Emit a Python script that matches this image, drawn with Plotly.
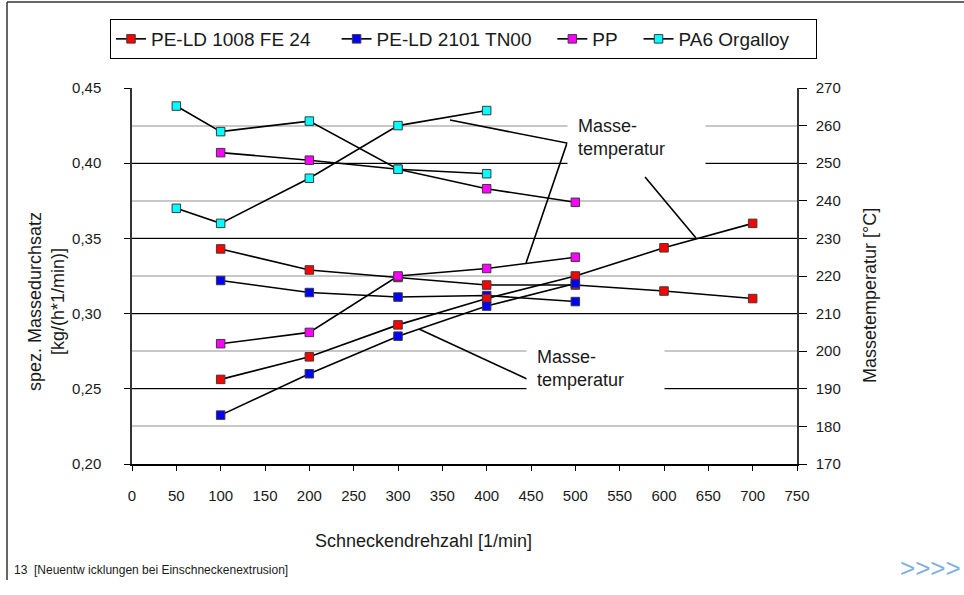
import plotly.graph_objects as go

# ---------------- data ----------------
materials = ["PE-LD 1008 FE 24", "PE-LD 2101 TN00", "PP", "PA6 Orgalloy"]
legend_pad = [4, 3, 3, 4]  # trailing spaces to mimic the wide legend spacing
colors = ["#FF0000", "#0000FF", "#FF00FF", "#00FFFF"]

speeds_ld1008 = [100, 200, 300, 400, 500, 600, 700]
ld1008_throughput = [0.343, 0.329, 0.324, 0.319, 0.319, 0.315, 0.310]
ld1008_temp = [192.5, 198.5, 207, 214, 220, 227.5, 234]

speeds_ld2101 = [100, 200, 300, 400, 500]
ld2101_throughput = [0.322, 0.314, 0.311, 0.312, 0.308]
ld2101_temp = [183, 194, 204, 212, 218]

speeds_pp = [100, 200, 300, 400, 500]
pp_throughput = [0.407, 0.402, 0.396, 0.383, 0.374]
pp_temp = [202, 205, 220, 222, 225]

speeds_pa6 = [50, 100, 200, 300, 400]
pa6_throughput = [0.438, 0.421, 0.428, 0.396, 0.393]
pa6_temp = [238, 234, 246, 260, 264]

x_ticks = [0, 50, 100, 150, 200, 250, 300, 350, 400, 450, 500, 550, 600, 650, 700, 750]
left_ticks = [0.20, 0.25, 0.30, 0.35, 0.40, 0.45]
right_ticks = [170, 180, 190, 200, 210, 220, 230, 240, 250, 260, 270]

# leader lines of the "Masse-temperatur" callouts (in data units of x / left y)
leader_upper = [(358.6, 0.4287), (490.6, 0.4134), (444.4, 0.3336)]
leader_upper2 = [(578.6, 0.3908), (636.1, 0.3503)]
leader_lower = [(445.5, 0.2565), (323.7, 0.2897)]
label_upper_pos = (490.6, 0.4168)
label_lower_pos = (444.4, 0.2638)

speeds = [speeds_ld1008, speeds_ld2101, speeds_pp, speeds_pa6]
throughputs = [ld1008_throughput, ld2101_throughput, pp_throughput, pa6_throughput]
temps = [ld1008_temp, ld2101_temp, pp_temp, pa6_temp]

FONT = "Liberation Sans, Arial, sans-serif"
TXT = "#1a1a1a"

fig = go.Figure()
for name, pad, col, xs, thr, tmp in zip(materials, legend_pad, colors, speeds, throughputs, temps):
    mk = dict(symbol="square", size=8.5, color=col, line=dict(color="#3a3a3a", width=1))
    ln = dict(color="black", width=1.6)
    fig.add_trace(go.Scatter(x=xs, y=thr, mode="lines+markers", name=name + "\u00a0" * pad,
                             legendgroup=name, marker=mk, line=ln, yaxis="y"))
    fig.add_trace(go.Scatter(x=xs, y=tmp, mode="lines+markers", name=name,
                             legendgroup=name, showlegend=False, marker=mk, line=ln,
                             yaxis="y2"))

W, H = 964, 595
L, R, T, B = 132, 167, 88, 131
pw, ph = W - L - R, H - T - B


def px(xp):
    return (xp - L) / pw


def py(yp):
    return (H - B - yp) / ph


def path(pts):
    return "M " + " L ".join(f"{a},{b}" for a, b in pts)


shapes = []
for pts in (leader_upper, leader_upper2, leader_lower):
    shapes.append(dict(type="path", xref="x", yref="y", path=path(pts),
                       line=dict(color="black", width=1.6), layer="above"))
# slide frame lines
shapes.append(dict(type="line", xref="paper", yref="paper", x0=px(7), x1=px(964),
                   y0=py(2), y1=py(2), line=dict(color="#333333", width=1.5)))
shapes.append(dict(type="line", xref="paper", yref="paper", x0=px(7), x1=px(7),
                   y0=py(2), y1=py(580), line=dict(color="#333333", width=1.5)))

annotations = [
    dict(x=label_upper_pos[0], y=label_upper_pos[1], xref="x", yref="y",
         text="Masse-<br>temperatur", showarrow=False, xanchor="left", yanchor="middle",
         align="left", bgcolor="white", borderpad=10, width=117,
         font=dict(family=FONT, size=18, color=TXT)),
    dict(x=label_lower_pos[0], y=label_lower_pos[1], xref="x", yref="y",
         text="Masse-<br>temperatur", showarrow=False, xanchor="left", yanchor="middle",
         align="left", bgcolor="white", borderpad=10, width=117,
         font=dict(family=FONT, size=18, color=TXT)),
    dict(x=px(423), y=py(541), xref="paper", yref="paper", xanchor="center",
         yanchor="middle", text="Schneckendrehzahl [1/min]", showarrow=False,
         font=dict(family=FONT, size=18, color=TXT)),
    dict(x=px(46), y=py(302), xref="paper", yref="paper", textangle=-90,
         xanchor="center", yanchor="middle",
         text="spez. Massedurchsatz<br>[kg/(h*1/min)]", showarrow=False,
         font=dict(family=FONT, size=18, color=TXT)),
    dict(x=px(870), y=py(296), xref="paper", yref="paper", textangle=-90,
         xanchor="center", yanchor="middle",
         text="Massetemperatur [°C]", showarrow=False,
         font=dict(family=FONT, size=18, color=TXT)),
    dict(x=px(12), y=py(570), xref="paper", yref="paper", xanchor="left",
         yanchor="middle",
         text="13  [Neuentw icklungen bei Einschneckenextrusion]", showarrow=False,
         font=dict(family=FONT, size=12, color=TXT)),
    dict(x=px(930), y=py(568), xref="paper", yref="paper", xanchor="center",
         yanchor="middle", text="&gt;&gt;&gt;&gt;", showarrow=False,
         font=dict(family=FONT, size=26, color="#7FB0E0")),
]

fig.update_layout(
    width=W, height=H,
    margin=dict(l=L, r=R, t=T, b=B, pad=0),
    paper_bgcolor="white", plot_bgcolor="white",
    separators=",.",
    font=dict(family=FONT, size=15, color=TXT),
    showlegend=True,
    legend=dict(orientation="h", x=px(110), y=py(19), xanchor="left", yanchor="top",
                bordercolor="black", borderwidth=1, bgcolor="white",
                font=dict(family=FONT, size=19, color=TXT), itemwidth=30,
                traceorder="normal"),
    xaxis=dict(range=[0, 750], tickvals=x_ticks, ticks="outside", ticklen=5,
               tickcolor="black", showline=True, linecolor="black", linewidth=1.5,
               showgrid=False, zeroline=False, ticklabelstandoff=12,
               tickfont=dict(size=15, color=TXT)),
    yaxis=dict(range=[0.20, 0.45], tickvals=left_ticks, tickformat=".2f",
               ticks="outside", ticklen=6, tickcolor="black", showline=True,
               linecolor="#333333", linewidth=1.5, showgrid=True, gridcolor="black",
               gridwidth=1, zeroline=False, ticklabelstandoff=20,
               minor=dict(dtick=0.025, tick0=0.2, showgrid=True, gridcolor="#c8c8c8",
                          gridwidth=1.5, ticks=""),
               tickfont=dict(size=15, color=TXT)),
    yaxis2=dict(range=[170, 270], tickvals=right_ticks, overlaying="y", side="right",
                ticks="outside", ticklen=8, tickcolor="black", showline=True,
                linecolor="#333333", linewidth=1.5, showgrid=False, zeroline=False,
                ticklabelstandoff=6, tickfont=dict(size=15, color=TXT)),
    shapes=shapes,
    annotations=annotations,
)

fig.write_html("out.html")
